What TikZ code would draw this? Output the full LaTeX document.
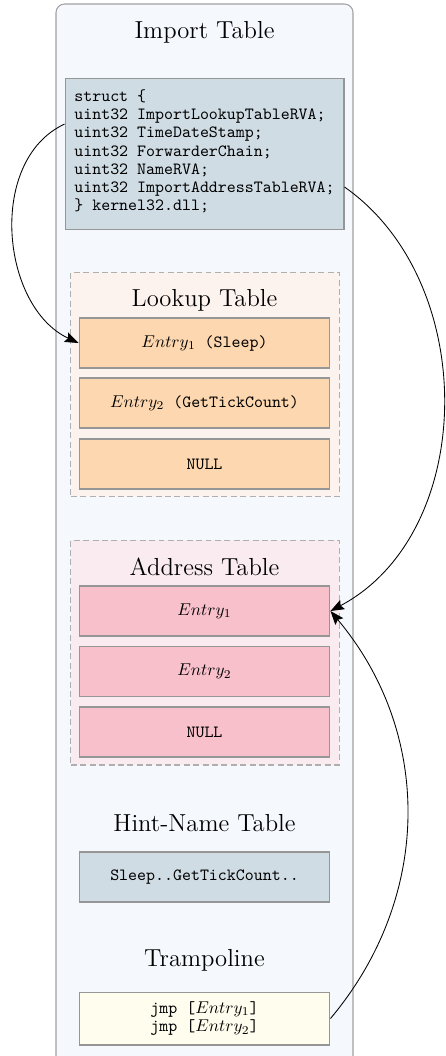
\documentclass[tikz,border=0pt]{standalone}
\usetikzlibrary{arrows.meta}

\definecolor{pagebg}{RGB}{245,248,253}
\definecolor{framegray}{RGB}{160,160,160}
\definecolor{boxgray}{RGB}{150,150,150}
\definecolor{dashgray}{RGB}{175,175,175}
\definecolor{structfill}{RGB}{207,220,228}
\definecolor{lookupbg}{RGB}{253,243,238}
\definecolor{lookupfill}{RGB}{253,215,175}
\definecolor{addrbg}{RGB}{249,235,240}
\definecolor{addrfill}{RGB}{247,192,203}
\definecolor{trampfill}{RGB}{255,253,238}

\tikzset{
  frame/.style={draw=framegray, fill=pagebg, line width=0.6pt, rounded corners=5pt},
  grouptitle/.style={font=\Large, inner sep=0pt},
  groupbox/.style={draw=dashgray, dash pattern=on 3.5pt off 2pt, line width=0.6pt, minimum width=156.8pt, minimum height=131.6pt, inner sep=0pt},
  entrybox/.style={draw=boxgray, line width=0.6pt, minimum width=146.8pt, minimum height=29.25pt, inner sep=0pt},
  link/.style={-{Stealth[length=8pt,width=6pt,inset=1.3pt]}, line width=0.5pt, black}
}

\begin{document}
\begin{tikzpicture}[x=0.585pt,y=0.585pt]
\useasboundingbox (0,0) rectangle (445,-1056);
\clip (0,0) rectangle (445,-1056);

% outer frame, running past the lower edge
\draw[frame] (56,-4) rectangle (353,-1090);

% import directory entry
\node[grouptitle] (ttl-import) at (204.5,-32) {Import Table};
\node[draw=boxgray, line width=0.6pt, fill=structfill, minimum width=163.2pt, minimum height=88.9pt,
      inner sep=0pt, align=left, font=\ttfamily\fontsize{10}{10.7}\selectfont]
  (struct) at (204.5,-154)
  {struct \{\\
   uint32 ImportLookupTableRVA;\\
   uint32 TimeDateStamp;\\
   uint32 ForwarderChain;\\
   uint32 NameRVA;\\
   uint32 ImportAddressTableRVA;\\
   \} kernel32.dll;\rule[-4.5pt]{0pt}{1pt}};

% import lookup table
\node[groupbox, fill=lookupbg] (lookup) at (205,-384.5) {};
\node[grouptitle] (ttl-lookup) at (204.5,-300) {Lookup Table};
\node[entrybox, fill=lookupfill] (l1) at (204.5,-343) {$Entry_1$\texttt{ (Sleep)}};
\node[entrybox, fill=lookupfill] (l2) at (204.5,-403) {$Entry_2$\texttt{ (GetTickCount)}};
\node[entrybox, fill=lookupfill] (l3) at (204.5,-464) {\texttt{NULL}};

% import address table
\node[groupbox, fill=addrbg] (addr) at (205,-652.5) {};
\node[grouptitle] (ttl-addr) at (204.5,-567) {Address Table};
\node[entrybox, fill=addrfill] (a1) at (204.5,-611) {$Entry_1$};
\node[entrybox, fill=addrfill] (a2) at (204.5,-671.5) {$Entry_2$};
\node[entrybox, fill=addrfill] (a3) at (204.5,-732) {\texttt{NULL}};

% hint/name table
\node[grouptitle] (ttl-hint) at (204.5,-823) {Hint-Name Table};
\node[entrybox, fill=structfill] (hint) at (204.5,-877) {\texttt{Sleep..GetTickCount..}};

% trampoline code
\node[grouptitle] (ttl-tramp) at (204.5,-960) {Trampoline};
\node[entrybox, fill=trampfill, minimum height=31pt, align=center, font=\fontsize{10}{10.7}\selectfont]
  (tramp) at (204.5,-1018.5)
  {\texttt{jmp [}$Entry_1$\texttt{]}\\\texttt{jmp [}$Entry_2$\texttt{]}};

% pointers
\draw[link] ([yshift=17.5pt]struct.west) to[out=205,in=155] (l1.west);
\draw[link] ([yshift=-19.3pt]struct.east) to[out=-35,in=28] (a1.east);
\draw[link] (tramp.east) to[out=50,in=-50] (a1.east);
\end{tikzpicture}
\end{document}
